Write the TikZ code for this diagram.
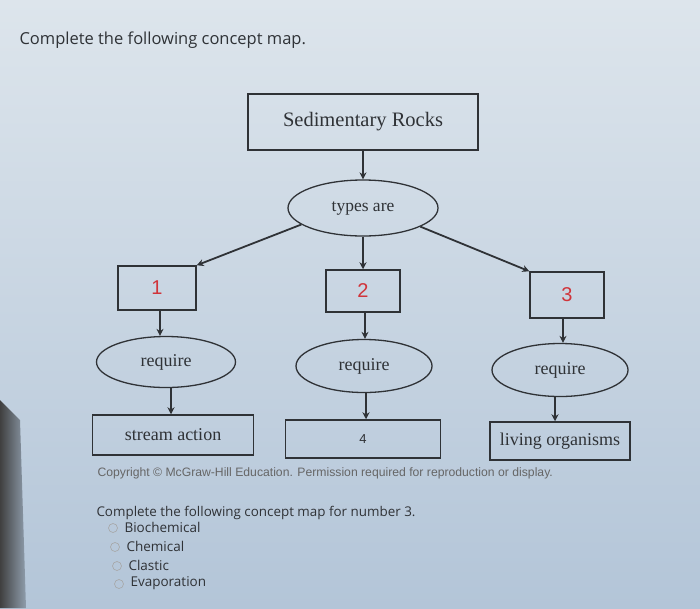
\documentclass[tikz,border=0pt]{standalone}
\usepackage{fontspec}
\setmainfont{Liberation Serif}
\newfontfamily\uisans{Open Sans}
\newfontfamily\arialf{Liberation Sans}
\usetikzlibrary{shapes.geometric,arrows.meta}
\definecolor{ink}{HTML}{2F3236}
\definecolor{numred}{HTML}{D0343A}
\definecolor{bgtop}{HTML}{DDE5EC}
\definecolor{bgbot}{HTML}{B3C5D8}
\tikzset{
  box/.style={draw=ink, line width=1.5pt, rectangle, inner sep=0pt, text=ink},
  oval/.style={draw=ink, line width=1.3pt, ellipse, inner sep=0pt, text=ink},
  arr/.style={draw=ink, line width=1.8pt, -{Stealth[length=7pt,width=7pt]}},
  lbl/.style={font=\fontsize{18}{20}\selectfont},
  num/.style={font=\arialf\fontsize{20}{22}\selectfont, text=numred},
  radio/.style={draw=gray!70, line width=0.6pt, circle, minimum size=9pt, inner sep=0pt},
  opt/.style={anchor=west, text=ink, font=\uisans\fontsize{13.5}{15}\selectfont}
}
\begin{document}
\begin{tikzpicture}[x=1pt,y=-1pt]
\useasboundingbox (0,0) rectangle (700,608);
\shade[top color=bgtop, bottom color=bgbot] (0,0) rectangle (700,608);
\shade[left color=black!75, right color=bgbot!80!black] (0,400) -- (20,420) -- (26,608) -- (0,608) -- cycle;

\node[anchor=west, text=ink, font=\uisans\fontsize{16.5}{18}\selectfont] (title) at (16,40) {Complete the following concept map.};

\node[box, minimum width=230pt, minimum height=56pt, font=\fontsize{20.5}{22}\selectfont] (sed) at (363,122) {Sedimentary Rocks};
\node[oval, minimum width=150pt, minimum height=56pt, font=\fontsize{17.5}{19}\selectfont] (types) at (363,208) {types are};

\node[box, num, minimum width=78pt, minimum height=44pt] (b1) at (157,288) {1};
\node[box, num, minimum width=74pt, minimum height=42pt] (b2) at (363,291) {2};
\node[box, num, minimum width=74pt, minimum height=46pt] (b3) at (567,295) {3};

\node[oval, lbl, minimum width=139pt, minimum height=51pt] (r1) at (166,362) {require};
\node[oval, lbl, minimum width=136pt, minimum height=53pt] (r2) at (364,366) {require};
\node[oval, lbl, minimum width=136pt, minimum height=53pt] (r3) at (560,370) {require};

\node[box, lbl, minimum width=161pt, minimum height=40pt] (s1) at (173,435) {stream action};
\node[box, minimum width=155pt, minimum height=38pt, font=\arialf\fontsize{13}{15}\selectfont] (s2) at (363,439) {4};
\node[box, lbl, minimum width=140pt, minimum height=38pt] (s3) at (560,441) {living organisms};

\draw[arr] (sed.south) -- (types.north);
\draw[arr] (types.195) -- (b1.north east);
\draw[arr] (types.south) -- (b2.north);
\draw[arr] (types.342) -- (b3.north west);

\draw[arr] ([xshift=3pt]b1.south) -- ([xshift=3pt]b1.south |- r1.north);
\draw[arr] ([xshift=2pt]b2.south) -- ([xshift=2pt]b2.south |- r2.north);
\draw[arr] ([xshift=-4pt]b3.south) -- ([xshift=-4pt]b3.south |- r3.north);

\draw[arr] ([xshift=5pt]r1.south) -- ([xshift=5pt]r1.south |- s1.north);
\draw[arr] ([xshift=2pt]r2.south) -- ([xshift=2pt]r2.south |- s2.north);
\draw[arr] ([xshift=-5pt]r3.south) -- ([xshift=-5pt]r3.south |- s3.north);

\node[anchor=west, text=gray!80!black, font=\arialf\fontsize{12.2}{14}\selectfont] (copy) at (94,473) {Copyright \textcopyright\ McGraw-Hill Education. Permission required for reproduction or display.};

\node[anchor=west, text=ink, font=\uisans\fontsize{13.4}{15}\selectfont] (q) at (93,513) {Complete the following concept map for number 3.};

\node[radio] (c1) at (113,528) {};
\node[radio] (c2) at (115,547) {};
\node[radio] (c3) at (117,566) {};
\node[radio] (c4) at (119,584) {};
\node[opt] (o1) at (121,527) {Biochemical};
\node[opt] (o2) at (123,546) {Chemical};
\node[opt] (o3) at (125,565) {Clastic};
\node[opt] (o4) at (127,583) {Evaporation};
\end{tikzpicture}
\end{document}
